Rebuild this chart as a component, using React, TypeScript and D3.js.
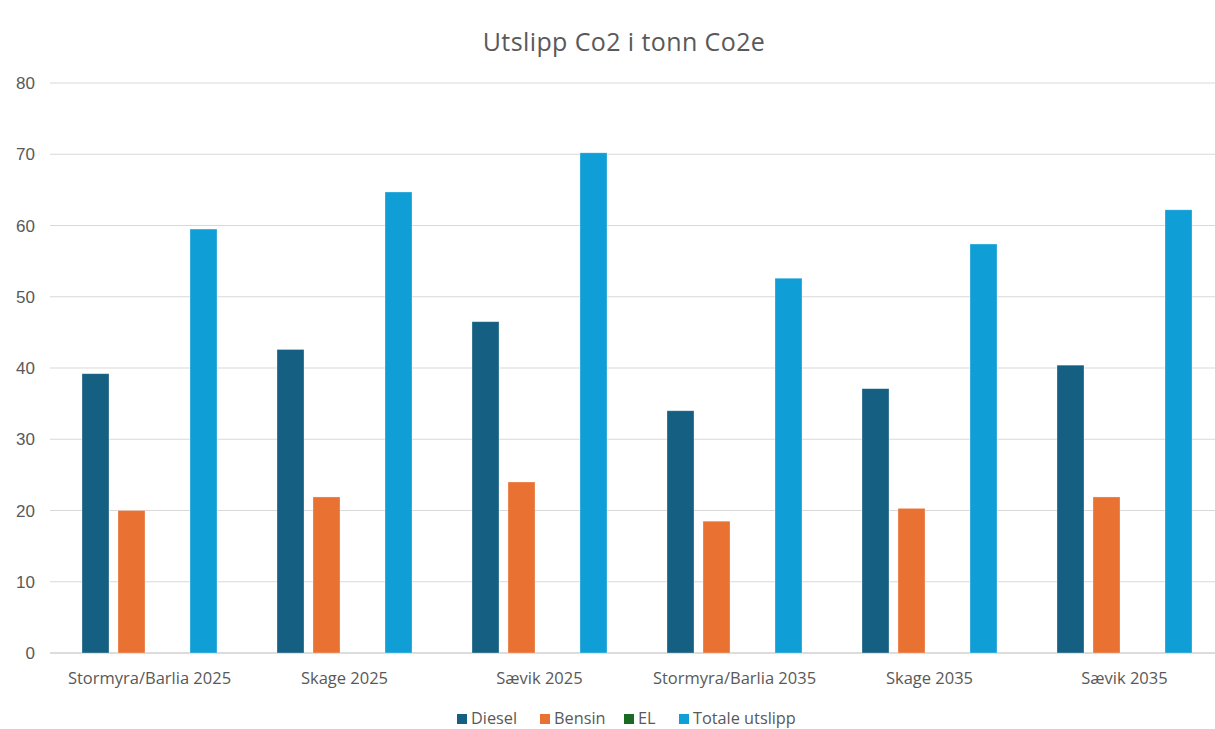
import React from "react";
import * as d3 from "d3";

const categories = [
  "Stormyra/Barlia 2025",
  "Skage 2025",
  "Sævik 2025",
  "Stormyra/Barlia 2035",
  "Skage 2035",
  "Sævik 2035",
];
const seriesNames = ["Diesel", "Bensin", "EL", "Totale utslipp"];
const diesel = [39.2, 42.6, 46.5, 34.0, 37.1, 40.4];
const bensin = [20.0, 21.9, 24.0, 18.5, 20.3, 21.9];
const el = [0, 0, 0, 0, 0, 0];
const totale = [59.5, 64.7, 70.2, 52.6, 57.4, 62.2];
const yTicks = [0, 10, 20, 30, 40, 50, 60, 70, 80];
const colors = ["#156082", "#E97132", "#196B24", "#0F9ED5"];
const title = "Utslipp Co2 i tonn Co2e";

const W = 1215;
const H = 729;
const font = "'Open Sans', 'Liberation Sans', sans-serif";
const tickFont = "'Liberation Sans', Arial, sans-serif";

export default function App() {
  const seriesValues = [diesel, bensin, el, totale];
  const x = d3.scaleBand<string>().domain(categories).range([52, 1222]).paddingInner(0).paddingOuter(0);
  const xi = d3
    .scaleBand<string>()
    .domain(seriesNames)
    .range([30, x.bandwidth() - 30])
    .paddingInner(0.25);
  const y = d3.scaleLinear().domain([0, 80]).range([653, 83]);

  const legendX = [457, 540, 624, 679];

  return (
    <svg width={W} height={H} style={{ position: "absolute", left: 0, top: 0, background: "#fff" }}>
      <rect x={0} y={0} width={W} height={H} fill="#fff" />
      <text x={624} y={51} textAnchor="middle" fontFamily={font} fontSize={25} letterSpacing={0.4} fill="#595959">
        {title}
      </text>
      {yTicks.map((t) => (
        <g key={t}>
          <line x1={50} x2={1215} y1={y(t)} y2={y(t)} stroke={t === 0 ? "#d0d0d0" : "#d9d9d9"} strokeWidth={t === 0 ? 1.5 : 1} />
          <text x={35} y={y(t) + 6} textAnchor="end" fontFamily={tickFont} fontSize={17} fill="#595959">
            {t}
          </text>
        </g>
      ))}
      {categories.map((c, ci) => (
        <g key={c} transform={`translate(${x(c)},0)`}>
          {seriesNames.map((s, si) => {
            const v = seriesValues[si][ci];
            return (
              <rect
                key={s}
                x={xi(s)}
                y={y(v)}
                width={xi.bandwidth()}
                height={y(0) - y(v)}
                fill={colors[si]}
                stroke="#ffffff"
                strokeOpacity={0.4}
                strokeWidth={0.75}
              />
            );
          })}
          <text
            x={x.bandwidth() / 2}
            y={684}
            textAnchor="middle"
            fontFamily={font}
            fontSize={16.5}
            fill="#595959"
          >
            {c}
          </text>
        </g>
      ))}
      {seriesNames.map((s, si) => (
        <g key={s}>
          <rect x={legendX[si]} y={714} width={10} height={10} fill={colors[si]} />
          <text x={legendX[si] + 14} y={724} fontFamily={font} fontSize={16.3} fill="#595959">
            {s}
          </text>
        </g>
      ))}
    </svg>
  );
}
